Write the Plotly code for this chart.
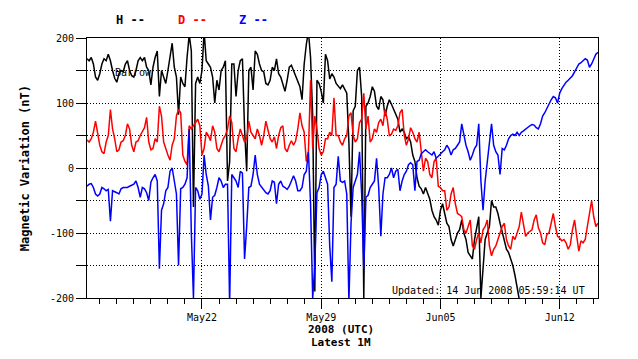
import pandas as pd
import plotly.graph_objects as go

# 3-hourly samples starting 2008-05-15 06:00 UTC
start_time = "2008-05-15 06:00"
n_samples = 241

H_values = [168,165,170,160,140,135,145,160,168,165,175,165,150,138,132,145,150,148,160,165,
            150,142,140,150,165,170,165,170,155,150,128,155,170,180,110,150,140,130,150,175,
            192,155,140,82,140,130,125,170,205,
            180,-60,130,140,130,150,210,165,160,155,140,100,135,120,150,155,165,-20,10,160,
            160,110,150,165,168,60,-5,150,155,120,180,175,160,150,148,130,128,135,155,150,
            168,145,140,130,118,135,155,158,
            150,140,135,125,105,160,190,210,170,80,-190,135,130,118,100,175,165,137,145,140,
            130,125,122,128,120,115,40,-75,88,95,150,155,110,-200,95,100,110,125,118,95,
            90,110,105,80,95,105,98,
            90,85,75,55,60,55,45,48,40,20,10,-15,-28,-32,-40,-30,-40,-48,-65,-75,
            -80,-88,-65,-55,-70,-85,-90,-110,-120,-110,-100,-95,-80,-100,-110,-130,-135,-140,-110,-90,
            -75,-200,-150,-110,-100,-90,-50,-60,
            -60,-70,-85,-100,-115,-125,-130,-140,-150,-165,-185,-205,-220]

D_values = [43,40,45,55,72,55,35,25,22,40,50,90,60,45,25,28,40,42,50,68,
            60,35,25,40,42,50,55,62,78,40,28,30,45,40,95,80,40,28,20,12,
            35,45,80,90,85,20,10,5,65,
            60,65,72,75,65,20,30,55,50,42,65,55,30,25,35,45,50,60,80,70,
            30,25,45,60,50,40,45,72,55,50,45,60,50,35,50,72,60,45,40,48,
            30,50,62,65,30,25,35,42,
            35,42,60,85,65,55,10,25,135,30,80,60,30,20,25,45,45,55,50,108,
            50,50,40,35,45,50,80,85,50,40,45,70,75,115,60,80,40,45,60,55,
            70,75,65,90,75,50,52,
            60,58,65,85,90,50,35,45,62,55,45,40,55,25,-5,15,10,-10,-15,10,
            15,-28,-30,-35,-35,-65,-60,-40,-30,-55,-70,-72,-75,-95,-100,-90,-80,-120,-125,-110,
            -100,-115,-95,-90,-80,-120,-135,-125,
            -120,-110,-100,-90,-85,-110,-120,-125,-105,-110,-100,-90,-68,-90,-105,-100,-98,-95,-80,-72,
            -92,-100,-115,-118,-102,-100,-85,-70,-90,-105,-108,-112,-110,-115,-125,-118,-95,-80,-105,-128,
            -112,-115,-110,-90,-70,-50,-75,-90,-85]

Z_values = [-28,-25,-24,-30,-40,-43,-40,-30,-32,-35,-33,-82,-35,-36,-38,-40,-32,-30,-30,-30,
            -28,-27,-25,-20,-30,-45,-30,-32,-38,-50,-22,-15,-10,-20,-155,-65,-55,-35,-30,-5,
            0,-20,-40,-150,-32,-30,-25,-15,60,
            -100,-200,-30,-35,-48,-40,20,-10,-28,-80,-45,-42,-30,-15,-20,-30,-25,-25,-210,-10,
            -15,-20,-30,-5,-8,-140,-90,-30,-28,-10,20,-10,-25,-30,-35,-38,-40,-35,-20,-22,
            -55,-25,-20,-28,-30,-33,-28,-20,
            -12,-20,-35,-35,-30,-10,-5,25,-55,-200,-150,-38,-30,-10,-5,-15,-25,-120,-175,-30,
            -25,18,-20,-22,-20,-40,-205,-85,-30,-20,-10,25,-40,-155,-45,-42,-30,-25,-20,15,
            -30,-105,-40,-15,-15,-10,0,
            -15,-5,-2,-35,-20,-10,-5,5,8,5,-35,10,12,22,25,28,25,22,20,25,
            15,18,22,25,28,35,30,20,28,30,35,40,68,50,35,25,12,20,30,35,
            68,-20,-65,-20,10,30,68,35,
            25,20,-10,30,28,35,45,50,52,50,55,50,55,57,60,62,65,67,66,62,
            60,68,80,85,92,98,105,110,108,100,115,122,128,132,135,138,142,148,155,160,
            162,165,168,166,155,160,168,175,178]

y_tick_vals = [-200, -150, -100, -50, 0, 50, 100, 150, 200]
y_tick_text = ["-200", "", "-100", "", "0", "", "100", "", "200"]
x_tick_vals = ["2008-05-22", "2008-05-29", "2008-06-05", "2008-06-12"]
x_tick_text = ["May22", "May29", "Jun05", "Jun12"]
x_range = ["2008-05-15 06:00", "2008-06-14 06:00"]

times = pd.date_range(start_time, periods=n_samples, freq="3h")

MONO = "DejaVu Sans Mono"
DOTS = "1px,2px"

fig = go.Figure()
fig.add_trace(go.Scatter(x=times[:len(H_values)], y=H_values, mode="lines",
                         line=dict(color="black", width=1.5), name="H"))
fig.add_trace(go.Scatter(x=times[:len(D_values)], y=D_values, mode="lines",
                         line=dict(color="red", width=1.5), name="D"))
fig.add_trace(go.Scatter(x=times[:len(Z_values)], y=Z_values, mode="lines",
                         line=dict(color="blue", width=1.5), name="Z"))

fig.update_layout(
    width=630, height=351,
    margin=dict(l=79, r=40, t=30, b=61),
    paper_bgcolor="white", plot_bgcolor="white",
    showlegend=False,
    font=dict(family=MONO, size=10, color="black"),
    xaxis=dict(
        type="date", range=x_range,
        tickvals=x_tick_vals, ticktext=x_tick_text,
        ticks="outside", ticklen=10, tickwidth=1, tickcolor="black",
        showline=True, linecolor="black", linewidth=1, mirror=True,
        showgrid=True, gridcolor="black", griddash=DOTS, gridwidth=1,
        zeroline=False,
        tickfont=dict(family=MONO, size=10),
        minor=dict(dtick=86400000, tick0="2008-05-15", ticks="outside",
                   ticklen=5, tickwidth=1, tickcolor="black", showgrid=False),
    ),
    yaxis=dict(
        range=[-200, 200],
        tickvals=y_tick_vals, ticktext=y_tick_text,
        ticks="outside", ticklen=10, tickwidth=1, tickcolor="black",
        showline=True, linecolor="black", linewidth=1, mirror=True,
        showgrid=True, gridcolor="black", griddash=DOTS, gridwidth=1,
        zeroline=False,
        tickfont=dict(family=MONO, size=10),
    ),
)

annotations = [
    dict(text="<b>H --</b>", x=0.086, y=1.069, font=dict(color="black", size=12)),
    dict(text="<b>D --</b>", x=0.207, y=1.069, font=dict(color="red", size=12)),
    dict(text="<b>Z --</b>", x=0.325, y=1.069, font=dict(color="blue", size=12)),
    dict(text="Barrow", x=0.051, y=0.869, xanchor="left", font=dict(color="black", size=10)),
    dict(text="Updated: 14 Jun 2008 05:59:14 UT", x=0.978, y=0.027, xanchor="right",
         font=dict(color="black", size=10)),
    dict(text="<b>2008 (UTC)</b>", x=0.498, y=-0.122, font=dict(color="black", size=11)),
    dict(text="<b>Latest 1M</b>", x=0.498, y=-0.173, font=dict(color="black", size=11)),
    dict(text="<b>Magnetic Variation (nT)</b>", x=-0.121, y=0.5, textangle=-90,
         font=dict(color="black", size=12)),
]
for a in annotations:
    a.setdefault("xanchor", "center")
    fig.add_annotation(xref="paper", yref="paper", showarrow=False,
                       font_family=MONO, yanchor="middle", **a)

fig.write_html("out.html")
